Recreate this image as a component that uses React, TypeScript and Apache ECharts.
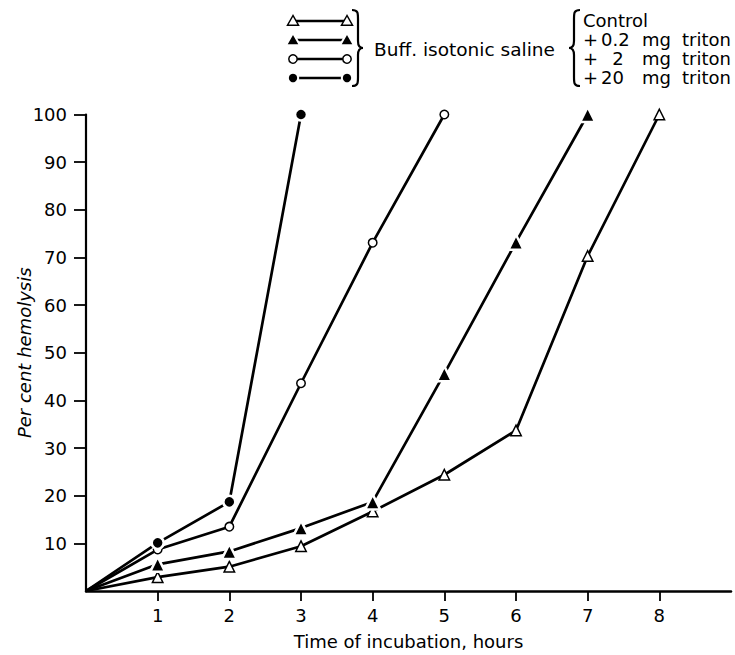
import React, { useEffect, useRef } from "react";
import * as echarts from "echarts";

// ---- data ----
const hours = [0, 1, 2, 3, 4, 5, 6, 7, 8];
const controlValues = [0, 2.9, 5.1, 9.4, 16.7, 24.4, 33.7, 70.3, 100];
const triton02Values = [0, 5.6, 8.3, 13.2, 18.7, 45.6, 73.2, 100];
const triton2Values = [0, 8.7, 13.5, 43.6, 73.1, 100];
const triton20Values = [0, 10.1, 18.7, 100];

const xTickValues = [1, 2, 3, 4, 5, 6, 7, 8];
const yTickValues = [10, 20, 30, 40, 50, 60, 70, 80, 90, 100];

const seriesNames = ["Control", "+ 0.2 mg triton", "+ 2 mg triton", "+ 20 mg triton"];
const seriesValues = [controlValues, triton02Values, triton2Values, triton20Values];
const seriesSymbols = ["triangle", "triangle", "circle", "circle"];
const seriesFilled = [false, true, false, true];

// legend right-hand label parts: [prefix, amount, unit, agent]
const legendLabelParts: string[][] = [
  ["Control", "", "", ""],
  ["+", "0.2", "mg", "triton"],
  ["+", "2", "mg", "triton"],
  ["+", "20", "mg", "triton"],
];
const groupLabel = "Buff. isotonic saline";
const xAxisName = "Time of incubation, hours";
const yAxisName = "Per cent hemolysis";

const FONT = "DejaVu Sans";

let shapesRegistered = false;
function registerShapes() {
  if (shapesRegistered) return;
  shapesRegistered = true;
  echarts.graphic.registerShape(
    "braceRight",
    echarts.graphic.extendPath(
      "M0 0 C6 0 6 3 6 9 L6 31 C6 35 7 38 11 38 C7 38 6 41 6 45 L6 67 C6 73 6 76 0 76",
      {}
    )
  );
  echarts.graphic.registerShape(
    "braceLeft",
    echarts.graphic.extendPath(
      "M11 0 C5 0 5 3 5 9 L5 31 C5 35 4 38 0 38 C4 38 5 41 5 45 L5 67 C5 73 5 76 11 76",
      {}
    )
  );
}

function markerGraphic(symbol: string, filled: boolean, x: number, y: number): any {
  const style = filled
    ? { fill: "#000", stroke: "#fff", lineWidth: 2 }
    : { fill: "#fff", stroke: "#000", lineWidth: 1.5 };
  if (symbol === "triangle") {
    const h = filled ? 7 : 5.5;
    return {
      type: "polygon",
      shape: { points: [[x, y - h], [x - h, y + h * 0.75], [x + h, y + h * 0.75]] },
      style,
      z: 10,
    };
  }
  return { type: "circle", shape: { cx: x, cy: y, r: filled ? 5.2 : 4.2 }, style, z: 10 };
}

export default function App() {
  const ref = useRef<HTMLDivElement>(null);

  useEffect(() => {
    if (!ref.current) return;
    registerShapes();
    const chart = echarts.init(ref.current, undefined, { renderer: "svg" });

    const series = seriesNames.map((name, si) => {
      const filled = seriesFilled[si];
      return {
        name,
        type: "line",
        clip: false,
        symbol: seriesSymbols[si],
        symbolSize: seriesSymbols[si] === "triangle" ? (filled ? 15 : 10.5) : filled ? 12 : 8.5,
        showSymbol: true,
        lineStyle: { color: "#000", width: 2.7 },
        itemStyle: filled
          ? { color: "#000", borderColor: "#fff", borderWidth: 2.5 }
          : { color: "#fff", borderColor: "#000", borderWidth: 1.5 },
        z: 3,
        data: seriesValues[si].map((v, i) =>
          i === 0 ? { value: [hours[i], v], symbol: "none" } : [hours[i], v]
        ),
      };
    });

    const legendRowsY = [21, 40, 59, 78];
    const labelRowsY = [20, 39, 58.5, 77.5];
    const graphics: any[] = [];
    seriesNames.forEach((_, i) => {
      const y = legendRowsY[i];
      graphics.push({
        type: "line",
        shape: { x1: 293, y1: y, x2: 347, y2: y },
        style: { stroke: "#000", lineWidth: 2.7 },
        z: 5,
      });
      graphics.push(markerGraphic(seriesSymbols[i], seriesFilled[i], 293, y));
      graphics.push(markerGraphic(seriesSymbols[i], seriesFilled[i], 347, y));
    });
    graphics.push({
      type: "braceRight",
      x: 352,
      y: 10,
      style: { fill: "none", stroke: "#000", lineWidth: 2.2 },
    });
    graphics.push({
      type: "text",
      x: 374,
      y: 49,
      style: {
        text: groupLabel,
        font: `18.5px "${FONT}"`,
        fill: "#000",
        verticalAlign: "middle",
        align: "left",
      },
    });
    graphics.push({
      type: "braceLeft",
      x: 569,
      y: 10,
      style: { fill: "none", stroke: "#000", lineWidth: 2.2 },
    });
    const colX = [583, 601, 642, 682];
    legendLabelParts.forEach((parts, i) => {
      parts.forEach((p, j) => {
        if (!p) return;
        let x = colX[j];
        let align = "left";
        if (j === 1 && p.length === 1) {
          x = 618;
          align = "center";
        }
        graphics.push({
          type: "text",
          x,
          y: labelRowsY[i],
          style: {
            text: p,
            font: `18px "${FONT}"`,
            fill: "#000",
            verticalAlign: "middle",
            align,
          },
        });
      });
    });

    chart.setOption({
      animation: false,
      backgroundColor: "#fff",
      grid: { left: 86, right: 4, top: 114.5, bottom: 57, containLabel: false },
      xAxis: {
        type: "value",
        min: 0,
        max: 9,
        interval: 1,
        name: xAxisName,
        nameLocation: "middle",
        nameGap: 41,
        nameTextStyle: { fontFamily: FONT, fontSize: 18, color: "#000" },
        axisLine: { onZero: false, lineStyle: { color: "#000", width: 2.5 } },
        axisTick: {
          show: true,
          inside: false,
          length: 10,
          customValues: xTickValues,
          lineStyle: { color: "#000", width: 1.8 },
        },
        axisLabel: {
          customValues: xTickValues,
          margin: 15,
          fontFamily: FONT,
          fontSize: 18,
          color: "#000",
        },
        splitLine: { show: false },
      },
      yAxis: {
        type: "value",
        min: 0,
        max: 100,
        interval: 10,
        name: yAxisName,
        nameLocation: "middle",
        nameGap: 53,
        nameMoveOverlap: false,
        nameTextStyle: { fontFamily: FONT, fontSize: 18, fontStyle: "italic", color: "#000" },
        axisLine: { show: true, onZero: false, lineStyle: { color: "#000", width: 2.2 } },
        axisTick: {
          show: true,
          inside: false,
          length: 12,
          customValues: yTickValues,
          lineStyle: { color: "#000", width: 1.8 },
        },
        axisLabel: {
          customValues: yTickValues,
          margin: 19,
          fontFamily: FONT,
          fontSize: 18,
          color: "#000",
        },
        splitLine: { show: false },
      },
      graphic: graphics,
      series,
    });

    return () => {
      chart.dispose();
    };
  }, []);

  return (
    <div
      ref={ref}
      style={{ position: "fixed", left: 0, top: 0, width: 735, height: 655, background: "#fff" }}
    />
  );
}
